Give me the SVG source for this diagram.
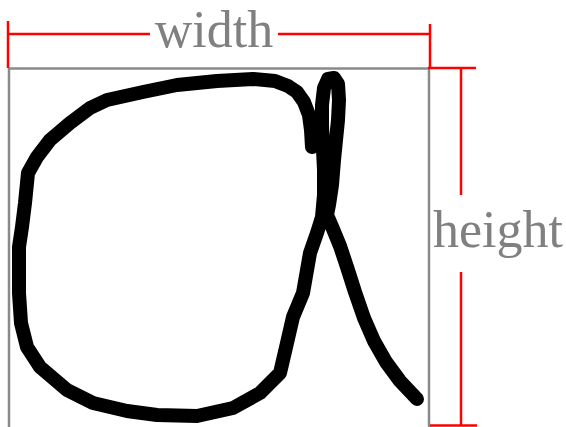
<svg xmlns="http://www.w3.org/2000/svg" width="566" height="427" viewBox="0 0 566 427">
<style>
.dim{stroke:#ff0000;stroke-width:2.5;fill:none}
.lbl{font-family:"Liberation Serif","Times New Roman",serif;font-size:52px;fill:#808080;text-anchor:middle}
.box{stroke:#8a8a8a;stroke-width:2.5;fill:none}
.ink{stroke:#000;stroke-width:14;fill:none;stroke-linejoin:round;stroke-linecap:round}
</style>
<rect width="566" height="427" fill="#fff"/>
<g id="box">
<polyline class="box" points="9,430 9,68.5 429,68.5 429,430"/>
</g>
<g id="glyph">
<path class="ink" d="M312,147 L311,130 L309,115 L304,102 L297,92 L288,86 L275,81 L253,79 L235,80 L217,81 L177,85 L143,92 L107,100 L90,108 L70,123 L50,140 L37,157 L28,173 L25,203 L22,227 L19,247 L19,293 L21,323 L27,347 L40,367 L67,390 L93,403 L127,411 L157,415 L197,416 L233,408 L260,393 L280,373 L287,343 L293,317 L303,293 L310,253 L317,233 L322,217 L324,195 L324,170 L323,150 L322,125 L322,105 L324,88 L328,79 L334,78 L338,84 L339,100 L338,120 L336,140 L334,160 L332,185 L329,205 L327,215 L333,229 L340,246 L347,267 L355,292 L364,318 L374,341 L386,362 L400,381 L417,399"/>
</g>
<g id="width-dim">
<line class="dim" x1="8" y1="21" x2="8" y2="68"/>
<line class="dim" x1="8" y1="34" x2="150" y2="34"/>
<line class="dim" x1="278" y1="34" x2="430" y2="34"/>
<line class="dim" x1="430" y1="24" x2="430" y2="68"/>
<text class="lbl" x="214" y="47">width</text>
</g>
<g id="height-dim">
<line class="dim" x1="428" y1="68" x2="476" y2="68"/>
<line class="dim" x1="461" y1="68" x2="461" y2="195"/>
<line class="dim" x1="461" y1="272" x2="461" y2="426"/>
<line class="dim" x1="430" y1="425.5" x2="477" y2="425.5"/>
<text class="lbl" x="498" y="247">height</text>
</g>
</svg>
